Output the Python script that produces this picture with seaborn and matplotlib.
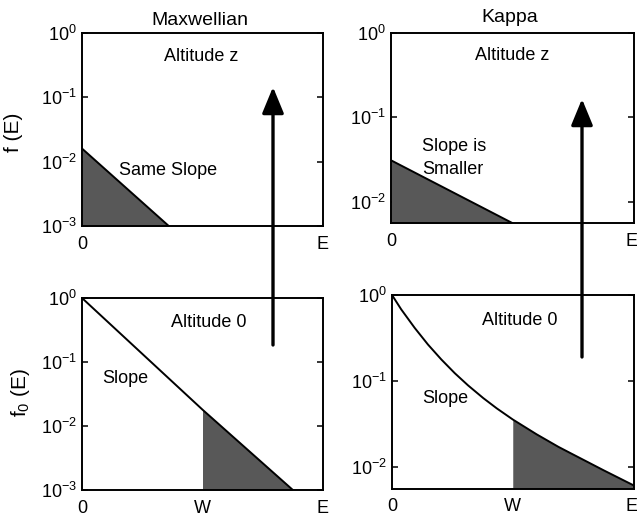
import numpy as np
import matplotlib
matplotlib.use("Agg")
import matplotlib.pyplot as plt
import matplotlib.transforms as mtransforms
import seaborn as sns
from matplotlib.patches import FancyArrowPatch

# ---- energy axis (0 .. E normalised to 1, W = potential drop) ----
W = 0.5
energy_ticks_top = [0.0, 1.0]
energy_labels_top = ["0", "E"]
energy_ticks_bottom = [0.0, W, 1.0]
energy_labels_bottom = ["0", "W", "E"]

# ---- Maxwellian: straight line in log space ----
maxwell_E0 = [0.0, 0.5, 0.875]
maxwell_f0 = [1.0, 0.018, 0.001]
maxwell_Ez = [0.0, 0.36]
maxwell_fz = [0.016, 0.001]

# ---- Kappa: power-law tail ----
kappa_E0 = [0.0, 0.038, 0.094, 0.149, 0.204, 0.260, 0.315, 0.378, 0.434, 0.5,
            0.599, 0.689, 0.74, 0.877, 1.0]
kappa_f0 = [1.0, 0.681, 0.414, 0.265, 0.178, 0.123, 0.0887, 0.0631, 0.0479, 0.0356,
            0.0239, 0.0171, 0.0144, 0.0091, 0.0061]
kappa_Ez = [0.0, 0.5]
kappa_fz = [0.031, 0.0056]

# ---- y axes ----
maxwell_ylim = (0.001, 1.0)
kappa_ylim = (0.0056, 1.0)
maxwell_yticks = [1.0, 0.1, 0.01, 0.001]
maxwell_ylabels = [r"$\mathregular{10^{0}}$", r"$\mathregular{10^{-1}}$",
                   r"$\mathregular{10^{-2}}$", r"$\mathregular{10^{-3}}$"]
kappa_yticks = [1.0, 0.1, 0.01]
kappa_ylabels = [r"$\mathregular{10^{0}}$", r"$\mathregular{10^{-1}}$",
                 r"$\mathregular{10^{-2}}$"]

sns.set_theme(style="ticks")
plt.rcParams["font.family"] = ["Liberation Sans", "DejaVu Sans"]
plt.rcParams["mathtext.fontset"] = "custom"
plt.rcParams["mathtext.rm"] = "Liberation Sans"
plt.rcParams["mathtext.it"] = "Liberation Sans:italic"
plt.rcParams["mathtext.bf"] = "Liberation Sans:bold"
plt.rcParams["text.color"] = "black"
plt.rcParams["axes.labelcolor"] = "black"
plt.rcParams["xtick.color"] = "black"
plt.rcParams["ytick.color"] = "black"

FW, FH = 637, 517
fig = plt.figure(figsize=(FW / 100, FH / 100), dpi=100)
fig.patch.set_facecolor("white")

SHADE = "#585858"
FS = 13


def fx(px):
    return px / FW


def fy(py):
    return 1 - py / FH


def panel(left, top, right, bottom):
    ax = fig.add_axes([fx(left), fy(bottom), fx(right) - fx(left), (bottom - top) / FH])
    ax.set_facecolor("white")
    for s in ax.spines.values():
        s.set_linewidth(1.4)
        s.set_color("black")
    return ax


def style(ax, ylim, yticks, ylabels, xticks, xlabels, edge_label=False):
    ax.set_yscale("log")
    ax.set_xlim(0, 1)
    ax.set_ylim(*ylim)
    ax.set_yticks(yticks)
    ax.set_yticklabels(ylabels)
    ax.minorticks_off()
    ax.set_xticks(xticks)
    ax.set_xticklabels(xlabels)
    ax.tick_params(axis="y", which="major", direction="in", left=True, right=True,
                   length=4, width=1.1, labelsize=FS, pad=3.5, colors="black")
    ax.tick_params(axis="x", length=0, labelsize=FS, pad=7, colors="black")
    ax.set_xlabel("")
    ax.set_ylabel("")
    if edge_label:
        # keep the last energy label inside the canvas at the right border
        lbl = ax.get_xticklabels()[-1]
        lbl.set_ha("right")
        lbl.set_transform(lbl.get_transform() +
                          mtransforms.ScaledTranslation(3.0 / 72, 0, fig.dpi_scale_trans))


# top-left: Maxwellian at altitude z
ax_tl = panel(82, 33, 323, 226)
sns.lineplot(x=maxwell_Ez, y=maxwell_fz, ax=ax_tl, color="black", linewidth=1.4)
ax_tl.fill_between(maxwell_Ez, maxwell_fz, maxwell_ylim[0], color=SHADE, linewidth=0)
style(ax_tl, maxwell_ylim, maxwell_yticks, maxwell_ylabels, energy_ticks_top, energy_labels_top)

# top-right: Kappa at altitude z
ax_tr = panel(391, 33, 633.5, 223)
sns.lineplot(x=kappa_Ez, y=kappa_fz, ax=ax_tr, color="black", linewidth=1.4)
ax_tr.fill_between(kappa_Ez, kappa_fz, kappa_ylim[0], color=SHADE, linewidth=0)
style(ax_tr, kappa_ylim, kappa_yticks, kappa_ylabels, energy_ticks_top, energy_labels_top,
      edge_label=True)

# bottom-left: Maxwellian at altitude 0
ax_bl = panel(82, 298, 323, 490)
sns.lineplot(x=maxwell_E0, y=maxwell_f0, ax=ax_bl, color="black", linewidth=1.4)
mE = np.array(maxwell_E0)
mF = np.array(maxwell_f0)
sel = mE >= W
ax_bl.fill_between(mE[sel], mF[sel], maxwell_ylim[0], color=SHADE, linewidth=0)
style(ax_bl, maxwell_ylim, maxwell_yticks, maxwell_ylabels, energy_ticks_bottom, energy_labels_bottom)

# bottom-right: Kappa at altitude 0
ax_br = panel(392, 295, 633.5, 488.5)
sns.lineplot(x=kappa_E0, y=kappa_f0, ax=ax_br, color="black", linewidth=1.4)
kE = np.array(kappa_E0)
kF = np.array(kappa_f0)
sel = kE >= W
ax_br.fill_between(kE[sel], kF[sel], kappa_ylim[0], color=SHADE, linewidth=0)
style(ax_br, kappa_ylim, kappa_yticks, kappa_ylabels, energy_ticks_bottom, energy_labels_bottom,
      edge_label=True)

# column titles
fig.text(fx(199.5), fy(25), "Maxwellian", ha="center", va="baseline", fontsize=14)
fig.text(fx(510), fy(22), "Kappa", ha="center", va="baseline", fontsize=14)

# panel annotations
fig.text(fx(201), fy(60.7), "Altitude z", ha="center", va="baseline", fontsize=FS)
fig.text(fx(512), fy(60), "Altitude z", ha="center", va="baseline", fontsize=FS)
fig.text(fx(119), fy(175), "Same Slope", ha="left", va="baseline", fontsize=FS)
fig.text(fx(422), fy(151.5), "Slope is", ha="left", va="baseline", fontsize=FS)
fig.text(fx(422), fy(174), "Smaller", ha="left", va="baseline", fontsize=FS)
fig.text(fx(208.3), fy(326.7), "Altitude 0", ha="center", va="baseline", fontsize=FS)
fig.text(fx(102), fy(382.7), "Slope", ha="left", va="baseline", fontsize=FS)
fig.text(fx(520), fy(325), "Altitude 0", ha="center", va="baseline", fontsize=FS)
fig.text(fx(422), fy(403.3), "Slope", ha="left", va="baseline", fontsize=FS)

# y-axis labels
fig.text(fx(13.7), fy(132.5), "f (E)", rotation=90, ha="center", va="center", fontsize=15)
fig.text(fx(20), fy(393), r"f$_\mathregular{0}$ (E)", rotation=90, ha="center", va="center",
         fontsize=15)

# upward arrows: altitude 0 -> altitude z
for x, y0, y1 in [(273, 345, 87), (582, 357, 99)]:
    arr = FancyArrowPatch((fx(x), fy(y0)), (fx(x), fy(y1)), transform=fig.transFigure,
                          arrowstyle="-|>,head_length=0.8,head_width=0.33",
                          mutation_scale=20, linewidth=2.4, color="black",
                          shrinkA=0, shrinkB=0)
    fig.add_artist(arr)

fig.savefig("out.png", dpi=100, facecolor="white")
